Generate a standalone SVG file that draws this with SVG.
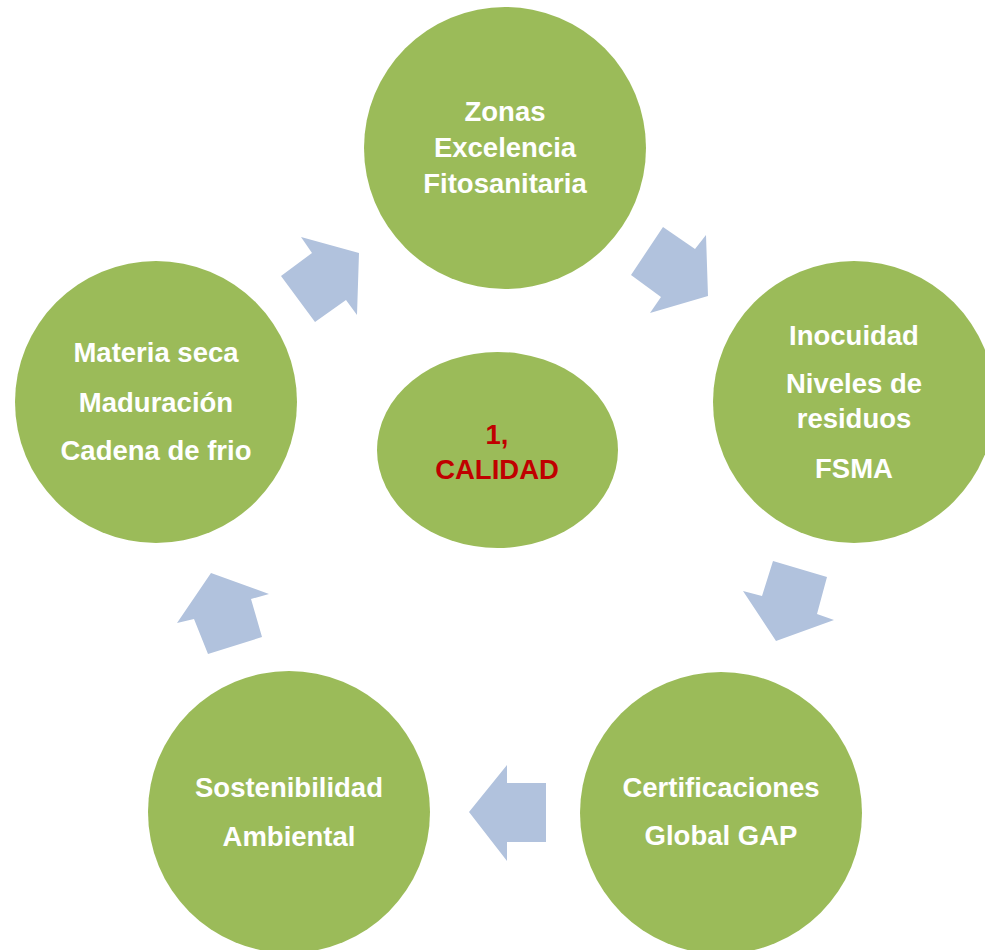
<svg xmlns="http://www.w3.org/2000/svg" width="985" height="950" viewBox="0 0 985 950">
<style>
.node{fill:#9BBB59}
.arrow{fill:#B1C2DD}
.t{font-family:"Liberation Sans",Arial,sans-serif;font-weight:bold;font-size:27.5px;fill:#FFFFFF;text-anchor:middle}
.c{fill:#C00000}
</style>
<rect width="985" height="950" fill="#FFFFFF"/>
<g id="connectors">
<polygon class="arrow" points="663,227 695,249 706,235 708,296 650,313 661,297 631,275"/>
<polygon class="arrow" points="773,561 827,577 817,614 834,620 776,641 743,591 762,596"/>
<polygon class="arrow" points="469,812 507,765 507,783 546,783 546,842 507,842 507,861"/>
<polygon class="arrow" points="211,573 269,594 251,599 262,637 208,654 194,619 177,623"/>
<polygon class="arrow" points="281,276 312,253 301,237 359,253 357,315 346,300 315,322"/>
</g>
<g id="node-top">
<circle class="node" cx="505" cy="148" r="141"/>
<text class="t" x="505" y="121">Zonas</text>
<text class="t" x="505" y="157">Excelencia</text>
<text class="t" x="505" y="193">Fitosanitaria</text>
</g>
<g id="node-right">
<circle class="node" cx="854" cy="402" r="141"/>
<text class="t" x="854" y="345">Inocuidad</text>
<text class="t" x="854" y="393">Niveles de</text>
<text class="t" x="854" y="428">residuos</text>
<text class="t" x="854" y="478">FSMA</text>
</g>
<g id="node-bottom-right">
<circle class="node" cx="721" cy="813" r="141"/>
<text class="t" x="721" y="797">Certificaciones</text>
<text class="t" x="721" y="845">Global GAP</text>
</g>
<g id="node-bottom-left">
<circle class="node" cx="289" cy="812" r="141"/>
<text class="t" x="289" y="797">Sostenibilidad</text>
<text class="t" x="289" y="846">Ambiental</text>
</g>
<g id="node-left">
<circle class="node" cx="156" cy="402" r="141"/>
<text class="t" x="156" y="362">Materia seca</text>
<text class="t" x="156" y="412">Maduración</text>
<text class="t" x="156" y="460">Cadena de frio</text>
</g>
<g id="node-center">
<ellipse class="node" cx="497.5" cy="450" rx="120.5" ry="98"/>
<text class="t c" x="497" y="444">1,</text>
<text class="t c" x="497" y="479">CALIDAD</text>
</g>
</svg>
